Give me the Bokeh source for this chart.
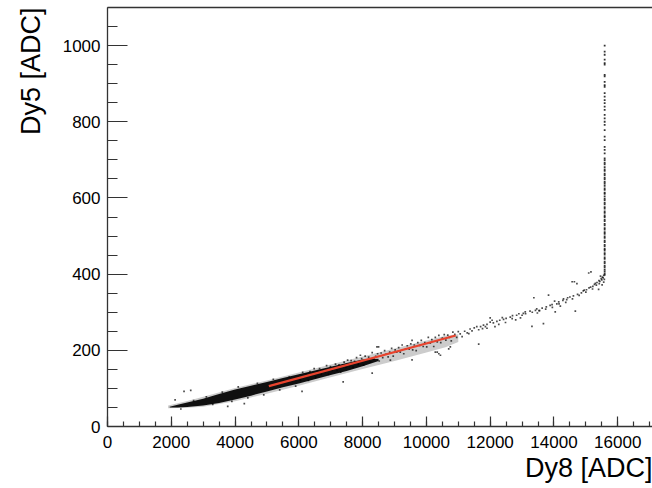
import numpy as np
from bokeh.plotting import figure
from bokeh.models import Range1d, LinearAxis, FixedTicker, Title
from bokeh.embed import file_html
from bokeh.resources import INLINE

# ---------------- data ----------------
x_ticks = [0, 2000, 4000, 6000, 8000, 10000, 12000, 14000, 16000]
y_ticks = [0, 200, 400, 600, 800, 1000]
x_title = "Dy8 [ADC]"
y_title = "Dy5 [ADC]"

# dense (saturated black) core of the scatter
core_x = [1950, 2200, 2500, 3000, 3500, 4000, 4500, 5000, 5500, 6000, 6500, 7000, 7500, 8000, 8500]
core_lo = [50, 50, 51, 55, 62, 71, 81, 92, 103, 113, 124, 135, 146, 158, 172]
core_hi = [52, 57, 63, 73, 85, 97, 107, 117, 127, 137, 147, 157, 167, 176, 178]

# lighter speckled envelope around it
halo_x = [1900, 2500, 3000, 4000, 5000, 6000, 7000, 8000, 9000, 10000, 10600, 11000]
halo_lo = [48, 49, 52, 66, 86, 107, 129, 151, 172, 194, 208, 222]
halo_hi = [55, 67, 78, 101, 121, 142, 163, 184, 205, 226, 238, 242]

# individual points around the band
band_dots_x = [2400, 2610, 2120, 3770, 4290, 6100, 7390, 2300, 2700, 3100, 3300, 3600, 3900, 4100,
               4400, 4700, 4900, 5200, 5400, 5700, 5900,
               6050, 6120, 6180, 6240, 6300, 6350, 6420, 6480, 6530, 6600, 6650, 6700, 6760, 6820,
               6870, 6930, 6990, 7040, 7100, 7150, 7200, 7260, 7310, 7370, 7420, 7480, 7530, 7590,
               7640, 7700, 7750, 7810, 7860, 7920, 7970, 8030, 8080, 8140, 8190, 8250, 8300, 8360,
               8410, 8470, 8520, 8580, 8630, 8690, 8740, 8800, 8850, 8910, 8960, 9020, 9070, 9130,
               9180, 9240, 9290, 9350, 9400, 9460, 9510, 9570, 9620, 9680, 9730, 9790, 9840, 9900,
               9950, 10010, 10060, 10120, 10170, 10230, 10280, 10340, 10390, 10450, 10500, 10560,
               10610, 10670, 10720, 10780, 10830, 10890, 10950, 11000,
               8300, 9550, 10280, 10390, 10750, 8450, 8870, 7930, 9550, 8500, 10340, 10440, 10700,
               11640]
band_dots_y = [92, 95, 70, 53, 60, 92, 117, 46, 68, 78, 58, 90, 66, 104,
               75, 113, 83, 124, 96, 130, 106,
               122, 142, 130, 138, 121, 144, 137, 152, 130, 144, 152, 137, 149, 144,
               160, 137, 157, 147, 153, 164, 147, 162, 143, 160, 169, 156, 174, 160,
               173, 156, 171, 181, 163, 171, 178, 161, 185, 175, 182, 169, 194, 177,
               184, 191, 172, 193, 181, 199, 190, 183, 195, 205, 185, 201, 195, 207,
               195, 214, 191, 204, 212, 203, 217, 201, 214, 199, 220, 213, 226, 210,
               220, 209, 234, 219, 228, 210, 234, 222, 239, 220, 232, 241,
               227, 240, 234, 225, 248, 242, 234, 249,
               140, 175, 195, 191, 209, 209, 174, 187, 226, 209, 195, 187, 204,
               216]

# sparse trail above 11000
trail_x = [11060, 11200, 11370, 11500, 11580, 11700, 11790, 11900, 12000, 12000, 12100, 12210,
           12300, 12420, 12500, 12630, 12700, 12830, 12900, 13040, 13100, 13250, 13310, 13370,
           13420, 13460, 13630, 13670, 13760, 13830, 13880, 13940, 14040, 14090, 14150, 14280,
           14300, 14430, 14500, 14570, 14610, 14670, 14720, 14740, 14860, 14920, 14950, 15020,
           15090, 15100, 15150, 15220, 15270, 15330, 15350, 15410, 15440, 15480, 15500, 15520,
           15540, 15560, 12150, 12800, 13550, 14200, 11900, 13000, 14400, 15300,
           11120, 11280, 11430, 11640, 11850, 12060, 12270, 12480, 12690, 13110, 13320, 13530,
           13740, 13950, 14160, 14370, 14580, 14790, 15000, 15210, 15420, 15580, 11330, 11760,
           12380, 12950, 13480, 14020, 14640, 15160, 15460, 15510, 15400, 15560]
trail_y = [243, 250, 256, 259, 262, 262, 266, 268, 274, 285, 272, 276,
           279, 281, 284, 287, 291, 292, 296, 297, 301, 303, 263, 338,
           305, 309, 311, 270, 314, 345, 318, 320, 301, 322, 327, 331,
           335, 338, 340, 380, 343, 303, 375, 347, 351, 356, 358, 359,
           403, 364, 366, 368, 373, 371, 378, 383, 381, 388, 385, 392,
           390, 397, 262, 280, 304, 316, 258, 292, 333, 376,
           236, 246, 251, 254, 262, 279, 268, 273, 283, 296, 300, 304,
           308, 313, 322, 326, 335, 344, 353, 361, 375, 386, 244, 257,
           286, 285, 298, 329, 380, 406, 395, 372, 360, 379]

# near-vertical column at saturation of Dy8
column_x = 15590
column_y = [1000, 984, 976, 963, 954, 950, 923, 919, 905, 896, 892, 875, 866, 857, 849, 840,
            831, 818, 809, 800, 792, 778, 761, 752, 734, 726, 717, 704, 699, 692, 688, 681,
            675, 671, 664, 660, 653, 649, 642, 638, 632, 625, 621, 614, 611, 604, 598, 594,
            587, 583, 576, 572, 565, 561, 554, 550, 543, 539, 532, 528, 521, 517, 510, 506,
            499, 495, 488, 484, 477, 473, 466, 462, 455, 451, 444, 440, 433, 429, 422, 418,
            412, 407, 402, 398]

# linear fit
fit_x = [5060, 10920]
fit_y = [106, 239]

# ---------------- figure ----------------
FONT = "Liberation Sans"
AXIS_COLOR = "#333333"

p = figure(width=652, height=488, output_backend="svg", toolbar_location=None,
           x_range=Range1d(0, 17090), y_range=Range1d(0, 1100),
           min_border_left=107, min_border_right=0, min_border_top=7, min_border_bottom=62,
           x_axis_location=None, y_axis_location=None)
p.background_fill_color = "white"
p.border_fill_color = "white"
p.outline_line_color = None
p.xgrid.visible = False
p.ygrid.visible = False

xa = LinearAxis(ticker=FixedTicker(ticks=x_ticks, minor_ticks=list(np.arange(0, 17500, 500))))
ya = LinearAxis(ticker=FixedTicker(ticks=y_ticks, minor_ticks=list(np.arange(0, 1101, 50))))
for ax in (xa, ya):
    ax.axis_line_color = AXIS_COLOR
    ax.axis_line_width = 1.3
    ax.major_tick_line_color = AXIS_COLOR
    ax.minor_tick_line_color = AXIS_COLOR
    ax.major_tick_line_width = 1.2
    ax.minor_tick_line_width = 1.2
    ax.major_tick_out = 0
    ax.minor_tick_out = 0
    ax.major_label_text_font = FONT
    ax.major_label_text_font_size = "17px"
    ax.major_label_text_color = "black"
xa.major_tick_in = 10
xa.minor_tick_in = 5
xa.major_label_standoff = 9
ya.major_tick_in = 20
ya.minor_tick_in = 10
ya.major_label_standoff = 7
p.add_layout(xa, "below")
p.add_layout(ya, "left")

top = LinearAxis(ticker=FixedTicker(ticks=[]), major_label_text_font_size="0px",
                 major_tick_in=0, major_tick_out=0, minor_tick_in=0, minor_tick_out=0,
                 major_label_standoff=0, axis_line_color=AXIS_COLOR, axis_line_width=1.3)
p.add_layout(top, "above")

# ---------------- axis titles ----------------
p.add_layout(Title(text=x_title, align="right", text_font=FONT, text_font_size="27px",
                   text_font_style="normal", text_color="black", standoff=0), "below")
p.add_layout(Title(text=y_title, align="right", text_font=FONT, text_font_size="27px",
                   text_font_style="normal", text_color="black", standoff=27), "left")

# ---------------- data glyphs ----------------
p.varea(x=halo_x, y1=halo_lo, y2=halo_hi, fill_color="black", fill_alpha=0.2)
p.varea(x=core_x, y1=core_lo, y2=core_hi, fill_color="black", fill_alpha=0.92)
p.scatter(band_dots_x, band_dots_y, marker="square", size=1.7, line_color=None,
          fill_color="black", fill_alpha=0.7)
p.scatter(trail_x, trail_y, marker="square", size=1.7, line_color=None,
          fill_color="black", fill_alpha=0.7)
p.scatter([column_x] * len(column_y), column_y, marker="square", size=1.8, line_color=None,
          fill_color="black", fill_alpha=0.8)
p.line(fit_x, fit_y, line_color="#e8432d", line_width=2.2)

open("out.html", "w").write(file_html(p, INLINE))
